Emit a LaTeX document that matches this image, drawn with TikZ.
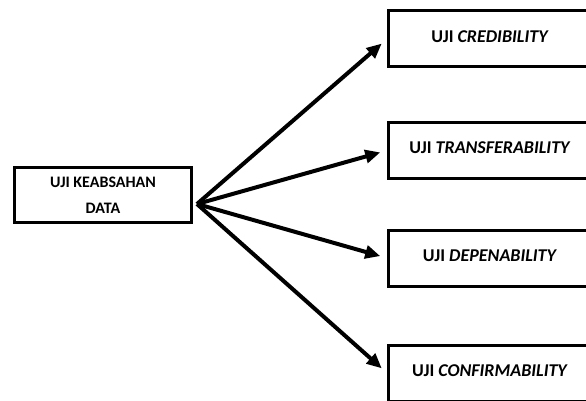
\documentclass[tikz,border=0pt]{standalone}
\usepackage{fontspec}
\setmainfont{Carlito}
\usetikzlibrary{arrows.meta}
\begin{document}
\begin{tikzpicture}[x=1pt,y=-1pt,
  box/.style={draw=black,line width=3pt,fill=white,inner sep=0pt,
    align=center,font=\fontsize{16}{26}\selectfont\bfseries},
  testbox/.style={box,minimum width=203pt,minimum height=56pt,text depth=5pt,
    font=\fontsize{18}{22}\selectfont\bfseries},
  link/.style={line width=4pt,-{Triangle[length=15pt,width=13pt]},shorten >=7pt}]
  \useasboundingbox (0,0) rectangle (586,401);
  \clip (0,0) rectangle (586,401);
  % source box
  \node[box,minimum width=177pt,minimum height=55pt] (src) at (103,195)
    {UJI KEABSAHAN\\DATA};
  % the four checks
  \node[testbox] (cred) at (490,39)    {UJI \textit{CREDIBILITY}};
  \node[testbox] (trans) at (490,150.5) {UJI \textit{TRANSFERABILITY}};
  \node[testbox] (dep) at (490,258)    {UJI \textit{DEPENABILITY}};
  \node[testbox] (conf) at (490,373)   {UJI \textit{CONFIRMABILITY}};
  % common origin of the arrows
  \coordinate (hub) at (197,204);
  \draw[link] (hub) -- (cred.west);
  \draw[link] (hub) -- (trans.west);
  \draw[link] (hub) -- (dep.west);
  \draw[link] (hub) -- (conf.west);
\end{tikzpicture}
\end{document}
